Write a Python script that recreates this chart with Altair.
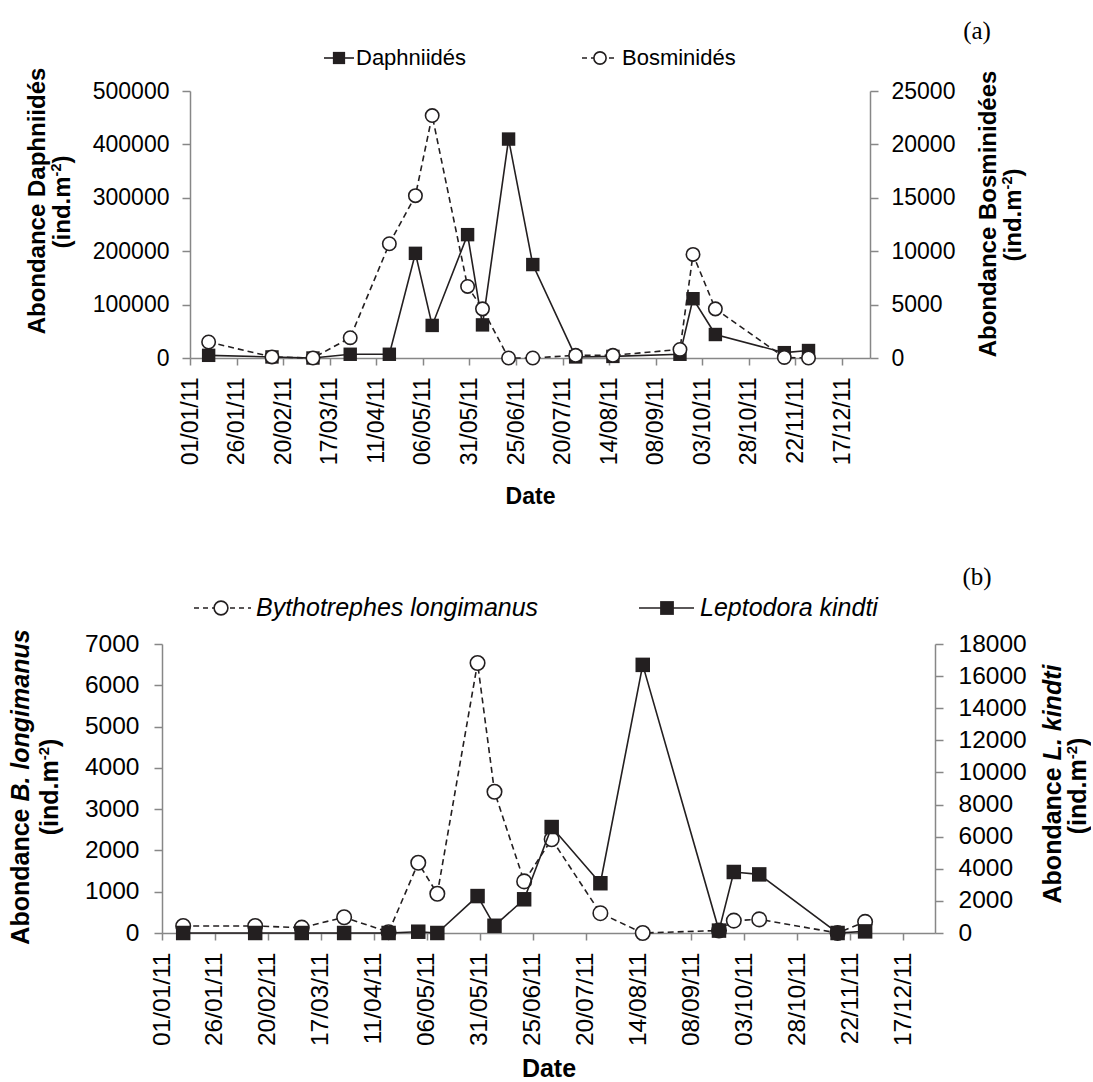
import altair as alt
import pandas as pd

# ---------------- data ----------------
dates = ["2011-01-11", "2011-02-14", "2011-03-08", "2011-03-28", "2011-04-18",
         "2011-05-02", "2011-05-11", "2011-05-30", "2011-06-07", "2011-06-21",
         "2011-07-04", "2011-07-27", "2011-08-16", "2011-09-21", "2011-09-28",
         "2011-10-10", "2011-11-16", "2011-11-29"]
daphniides = [5000, 2000, 0, 7000, 7000, 196000, 61000, 231000, 62000, 410000,
              175000, 2000, 3000, 7000, 111000, 44000, 10000, 14000]
bosminides = [1500, 100, 0, 1900, 10700, 15200, 22700, 6700, 4600, 0,
              0, 250, 250, 800, 9700, 4600, 50, 0]
bythotrephes = [170, 170, 130, 380, 20, 1700, 950, 6540, 3420, 1250,
                2270, 480, 0, 60, 300, 330, 0, 270]
leptodora = [0, 0, 0, 0, 0, 80, 0, 2300, 450, 2100,
             6600, 3100, 16700, 150, 3800, 3650, 0, 100]

tick_dates = ["2011-01-01", "2011-01-26", "2011-02-20", "2011-03-17", "2011-04-11",
              "2011-05-06", "2011-05-31", "2011-06-25", "2011-07-20", "2011-08-14",
              "2011-09-08", "2011-10-03", "2011-10-28", "2011-11-22", "2011-12-17"]
x_domain = ["2011-01-01", "2012-01-01"]

top_left_ticks = [0, 100000, 200000, 300000, 400000, 500000]
top_right_ticks = [0, 5000, 10000, 15000, 20000, 25000]
bot_left_ticks = [0, 1000, 2000, 3000, 4000, 5000, 6000, 7000]
bot_right_ticks = [0, 2000, 4000, 6000, 8000, 10000, 12000, 14000, 16000, 18000]


def ms(s):
    return int(pd.Timestamp(s, tz="UTC").value // 10**6)


df = pd.DataFrame({"date": dates, "daph": daphniides, "bosm": bosminides,
                   "byth": bythotrephes, "lept": leptodora})
one = pd.DataFrame({"a": [0]})

FONT = "Liberation Sans"
INK = "#231f20"
AX = "#878787"

# Arial/Liberation Sans Bold advance widths (per 1000 em) for title text
BW = {"A": 722, "b": 611, "o": 611, "n": 611, "d": 611, "a": 556, "c": 556, "e": 556,
      " ": 278, "D": 722, "p": 611, "h": 611, "i": 278, "é": 556, "s": 556, "B": 722,
      "m": 889, "(": 333, ")": 333, ".": 278, "-": 333, "2": 556, "L": 611, "k": 556,
      "t": 333, "l": 278, "g": 611, "u": 611}


def bwidth(s, size):
    return sum(BW[c] for c in s) / 1000.0 * size


def x_enc(lab, title_size, title_y):
    return alt.X("date:T",
                 scale=alt.Scale(type="utc", domain=[ms(d) for d in x_domain], nice=False),
                 axis=alt.Axis(values=[ms(d) for d in tick_dates], format="%d/%m/%y",
                               labelAngle=270, labelOverlap=False, labelFlush=False,
                               labelFontSize=lab, tickSize=7, labelPadding=12,
                               title="Date", titleFontWeight="bold",
                               titleFontSize=title_size, titleFont=FONT,
                               titleColor="black", titleY=title_y,
                               titleBaseline="middle"))


def y_enc(field, dom, ticks, orient, pad, lab):
    return alt.Y(f"{field}:Q",
                 scale=alt.Scale(domain=dom, nice=False),
                 axis=alt.Axis(values=ticks, format="d", orient=orient, title=None,
                               tickSize=8, labelPadding=pad, labelFlush=False,
                               labelOverlap=False, labelFontSize=lab))


def series(field, dom, ticks, orient, pad, dashed, square, size, lab, tsize, ty):
    base = alt.Chart(df).encode(x=x_enc(lab, tsize, ty),
                                y=y_enc(field, dom, ticks, orient, pad, lab))
    line_kw = dict(color=INK, strokeWidth=1.6)
    if dashed:
        line_kw["strokeDash"] = [6, 4]
    line = base.mark_line(**line_kw)
    if square:
        pts = base.mark_point(shape="square", filled=True, color=INK, size=size, opacity=1)
    else:
        pts = base.mark_point(shape="circle", fill="white", stroke=INK, strokeWidth=1.6,
                              size=size, opacity=1)
    return alt.layer(line, pts)


def txt(s, x, y, size=22, weight="bold", style="normal", angle=0, align="center",
        font=FONT, baseline="middle"):
    return alt.Chart(one).mark_text(text=s, fontSize=size, fontWeight=weight,
                                    fontStyle=style, angle=angle, align=align,
                                    baseline=baseline, font=font, color="black").encode(
        x=alt.value(x), y=alt.value(y))


def rot_line(xb, yc, size, pieces):
    """Vertical (270 deg) bold title line made of pieces (text, style, sup)."""
    total = sum(bwidth(t, size * (0.6 if sup else 1.0)) for t, st, sup in pieces)
    y = yc + total / 2.0
    out = []
    for t, st, sup in pieces:
        sz = size * (0.6 if sup else 1.0)
        x = xb - 0.36 * size if sup else xb
        out.append(txt(t, x, y, size=sz, style=st, angle=270, align="left",
                       baseline="alphabetic"))
        y -= bwidth(t, sz)
    return out


def unit_line(xb, yc, size):
    return rot_line(xb, yc, size, [("(ind.m", "normal", False), ("-2", "normal", True),
                                   (")", "normal", False)])


def seg(x1, x2, y, dashed):
    kw = dict(color=INK, strokeWidth=1.6)
    if dashed:
        kw["strokeDash"] = [5, 4]
    return alt.Chart(one).mark_rule(**kw).encode(x=alt.value(x1), x2=alt.value(x2),
                                                 y=alt.value(y))


def sym(x, y, square, size):
    if square:
        m = alt.Chart(one).mark_point(shape="square", filled=True, color=INK, size=size,
                                      opacity=1)
    else:
        m = alt.Chart(one).mark_point(shape="circle", fill="white", stroke=INK,
                                      strokeWidth=1.6, size=size, opacity=1)
    return m.encode(x=alt.value(x), y=alt.value(y))


def anchor(x1, x2, y1, y2):
    return alt.Chart(one).mark_rule(color="white", strokeWidth=1).encode(
        x=alt.value(x1), x2=alt.value(x2), y=alt.value(y1), y2=alt.value(y2))


# ---------------- top panel (a) ----------------
# plot area origin at page (189, 90), size 680 x 267
top_daph = series("daph", [0, 500000], top_left_ticks, "left", 13, False, True, 180,
                  23, 23, 138)
top_bosm = series("bosm", [0, 25000], top_right_ticks, "right", 13, True, False, 180,
                  23, 23, 138)

top_ann = [
    anchor(0, 1, -90, -89),
    txt("(a)", 787, -60, size=25, weight="normal", font="Liberation Serif"),
    seg(134, 164, -33, False), sym(149, -33, True, 150),
    txt("Daphniidés", 166, -33, weight="normal", align="left"),
    seg(392, 428, -33, True), sym(410, -33, False, 150),
    txt("Bosminidés", 432, -33, weight="normal", align="left"),
]
top_ann += rot_line(-145, 110, 24, [("Abondance Daphniidés", "normal", False)])
top_ann += unit_line(-120, 111, 24)
top_ann += rot_line(806, 123, 24, [("Abondance Bosminidées", "normal", False)])
top_ann += unit_line(831, 124, 24)

top_chart = alt.layer(top_daph, top_bosm, *top_ann).resolve_scale(
    y="independent").properties(width=680, height=267)

# ---------------- bottom panel (b) ----------------
# plot area origin at page (161, 643), size 773 x 289
bot_byth = series("byth", [0, 7000], bot_left_ticks, "left", 15, True, False, 210,
                  24.5, 25, 135)
bot_lept = series("lept", [0, 18000], bot_right_ticks, "right", 15, False, True, 210,
                  24.5, 25, 135)

bot_ann = [
    anchor(-161, -160, 0, 1),
    txt("(b)", 815, -67, size=25, weight="normal", font="Liberation Serif"),
    seg(32, 89, -36, True), sym(59, -36, False, 190),
    txt("Bythotrephes longimanus", 94, -36, size=25, weight="normal", style="italic",
        align="left"),
    seg(477, 532, -36, False), sym(505, -36, True, 190),
    txt("Leptodora kindti", 538, -36, size=25, weight="normal", style="italic",
        align="left"),
]
bot_ann += rot_line(-133, 143, 25, [("Abondance ", "normal", False),
                                    ("B. longimanus", "italic", False)])
bot_ann += unit_line(-104.5, 143, 25)
bot_ann += rot_line(899, 140, 25, [("Abondance ", "normal", False),
                                   ("L. kindti", "italic", False)])
bot_ann += unit_line(924, 142, 25)

bot_chart = alt.layer(bot_byth, bot_lept, *bot_ann).resolve_scale(
    y="independent").properties(width=773, height=289)

spacer = alt.Chart(one).mark_point(opacity=0).encode(
    x=alt.value(0), y=alt.value(0)).properties(width=28, height=10)

top_row = alt.hconcat(spacer, top_chart, spacing=0, bounds="flush")

# the nested row counts as zero height in flush layout, so spacing = 267 + 286
chart = alt.vconcat(top_row, bot_chart, spacing=553, bounds="flush").properties(
    padding=0, background="white"
).configure_view(stroke=None).configure_axis(
    labelFont=FONT, labelFontSize=22, labelColor="black",
    domainColor=AX, domainWidth=1.5, tickColor=AX, tickWidth=1.5, grid=False
)

chart.save("out.html", embed_options={"renderer": "svg", "actions": False})
